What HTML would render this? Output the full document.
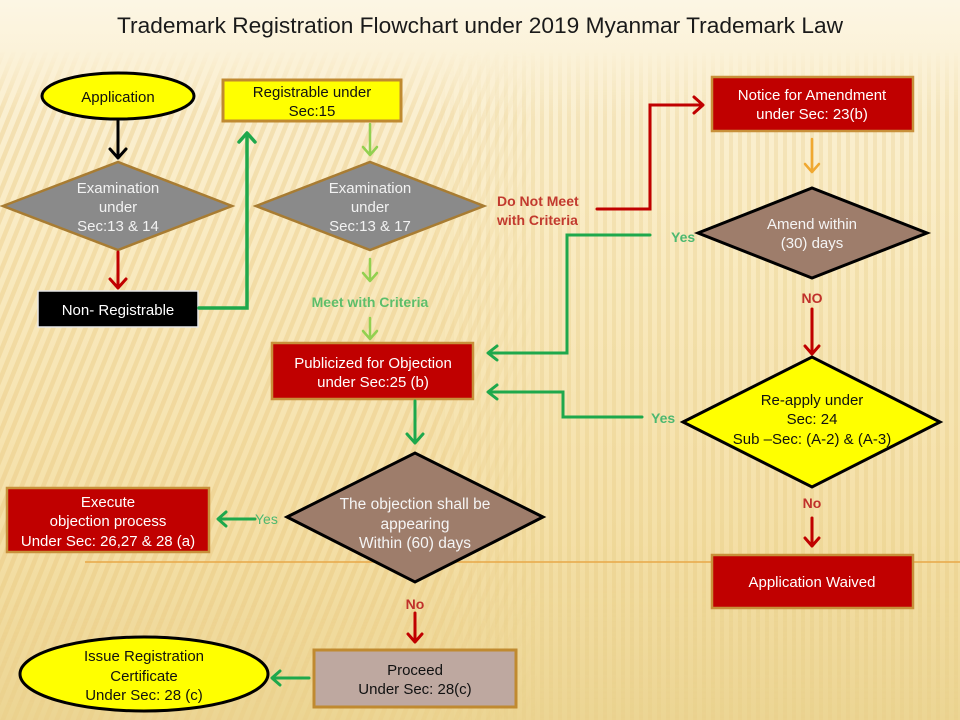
<!DOCTYPE html>
<html>
<head>
<meta charset="utf-8">
<style>
  html,body{margin:0;padding:0;background:#F8EBC4;}
  svg{display:block;}
  text{font-family:"Liberation Sans", Arial, sans-serif;}
</style>
</head>
<body>
<svg width="960" height="720" viewBox="0 0 960 720" xmlns="http://www.w3.org/2000/svg">
  <defs>
    <linearGradient id="bg" x1="0" y1="0" x2="0" y2="1">
      <stop offset="0" stop-color="#FCF6E4"/>
      <stop offset="0.09" stop-color="#FBF1D6"/>
      <stop offset="0.35" stop-color="#F9EAC0"/>
      <stop offset="0.75" stop-color="#F4DFA6"/>
      <stop offset="1" stop-color="#ECD593"/>
    </linearGradient>
    <pattern id="diag" width="10" height="10" patternUnits="userSpaceOnUse" patternTransform="rotate(22)">
      <rect width="4.5" height="10" fill="#E6C274" opacity="0.32"/>
    </pattern>
    <pattern id="vert" width="9" height="9" patternUnits="userSpaceOnUse">
      <rect width="4" height="9" fill="#E0BE6E" opacity="0.22"/>
    </pattern>
    <linearGradient id="fadeTop" x1="0" y1="0" x2="0" y2="1">
      <stop offset="0" stop-color="#fff" stop-opacity="0"/>
      <stop offset="0.1" stop-color="#fff" stop-opacity="1"/>
      <stop offset="0.8" stop-color="#fff" stop-opacity="1"/>
      <stop offset="1" stop-color="#fff" stop-opacity="0.5"/>
    </linearGradient>
    <linearGradient id="hL" x1="0" y1="0" x2="1" y2="0">
      <stop offset="0" stop-color="#fff" stop-opacity="1"/>
      <stop offset="0.8" stop-color="#fff" stop-opacity="1"/>
      <stop offset="1" stop-color="#fff" stop-opacity="0"/>
    </linearGradient>
    <linearGradient id="hR" x1="0" y1="0" x2="1" y2="0">
      <stop offset="0" stop-color="#fff" stop-opacity="0"/>
      <stop offset="0.2" stop-color="#fff" stop-opacity="1"/>
      <stop offset="1" stop-color="#fff" stop-opacity="1"/>
    </linearGradient>
    <mask id="m1"><rect x="0" y="50" width="960" height="670" fill="url(#fadeTop)"/></mask>
    <mask id="mL"><rect x="0" y="0" width="540" height="720" fill="url(#hL)"/></mask>
    <mask id="mR"><rect x="420" y="0" width="540" height="720" fill="url(#hR)"/></mask>
  </defs>

  <!-- background -->
  <rect x="0" y="0" width="960" height="720" fill="url(#bg)"/>
  <g mask="url(#m1)">
    <g mask="url(#mL)"><rect x="0" y="50" width="540" height="670" fill="url(#diag)"/></g>
    <g mask="url(#mR)"><rect x="420" y="50" width="540" height="670" fill="url(#vert)"/></g>
  </g>

  <!-- orange decorative line -->
  <line x1="85" y1="562" x2="960" y2="562" stroke="#E8A848" stroke-width="1.6"/>

  <!-- title -->
  <text x="480" y="33" font-size="22" text-anchor="middle" fill="#1A1A1A" textLength="726" lengthAdjust="spacingAndGlyphs">Trademark Registration Flowchart under 2019 Myanmar Trademark Law</text>

  <!-- ===== LEFT COLUMN ===== -->
  <ellipse cx="118" cy="96" rx="76" ry="23" fill="#FFFF00" stroke="#000" stroke-width="3"/>
  <text x="118" y="102" font-size="15" text-anchor="middle" fill="#111">Application</text>

  <g stroke="#000" stroke-width="3" fill="none" stroke-linecap="round" stroke-linejoin="round">
    <line x1="118" y1="121" x2="118" y2="157"/>
    <polyline points="110,149 118,158 126,149"/>
  </g>

  <polygon points="3,206 118,162 232,206 118,250" fill="#8A8A8A" stroke="#A87C32" stroke-width="2.5"/>
  <text x="118" y="193" font-size="15" text-anchor="middle" fill="#F2F2F2">Examination</text>
  <text x="118" y="212" font-size="15" text-anchor="middle" fill="#F2F2F2">under</text>
  <text x="118" y="231" font-size="15" text-anchor="middle" fill="#F2F2F2">Sec:13 &amp; 14</text>

  <g stroke="#C00000" stroke-width="3" fill="none" stroke-linecap="round" stroke-linejoin="round">
    <line x1="118" y1="252" x2="118" y2="287"/>
    <polyline points="110,279 118,288 126,279"/>
  </g>

  <rect x="38" y="291" width="160" height="36" fill="#000" stroke="#E8E8E8" stroke-width="1.5"/>
  <text x="118" y="315" font-size="15" text-anchor="middle" fill="#FFF">Non- Registrable</text>

  <g stroke="#1EA84C" stroke-width="3.5" fill="none" stroke-linecap="round" stroke-linejoin="miter">
    <polyline points="199,308 247,308 247,134"/>
    <polyline points="239,142 247,133 255,142" stroke-linejoin="round"/>
  </g>

  <rect x="223" y="80" width="178" height="41" fill="#FFFF00" stroke="#C08A30" stroke-width="3"/>
  <text x="312" y="97" font-size="15" text-anchor="middle" fill="#111">Registrable under</text>
  <text x="312" y="116" font-size="15" text-anchor="middle" fill="#111">Sec:15</text>

  <g stroke="#92D050" stroke-width="2.5" fill="none" stroke-linecap="round" stroke-linejoin="round">
    <line x1="370" y1="124" x2="370" y2="154"/>
    <polyline points="363,147 370,155 377,147"/>
    <line x1="370" y1="259" x2="370" y2="280"/>
    <polyline points="363,273 370,281 377,273"/>
    <line x1="370" y1="318" x2="370" y2="338"/>
    <polyline points="363,331 370,339 377,331"/>
  </g>

  <polygon points="256,206 370,162 484,206 370,250" fill="#8A8A8A" stroke="#A87C32" stroke-width="2.5"/>
  <text x="370" y="193" font-size="15" text-anchor="middle" fill="#F2F2F2">Examination</text>
  <text x="370" y="212" font-size="15" text-anchor="middle" fill="#F2F2F2">under</text>
  <text x="370" y="231" font-size="15" text-anchor="middle" fill="#F2F2F2">Sec:13 &amp; 17</text>

  <text x="370" y="307" font-size="14" font-weight="bold" text-anchor="middle" fill="#5DBE6A">Meet with Criteria</text>

  <text x="497" y="206" font-size="14" font-weight="bold" fill="#C23A2E">Do Not Meet</text>
  <text x="497" y="225" font-size="14" font-weight="bold" fill="#C23A2E">with Criteria</text>
  <g stroke="#C00000" stroke-width="3" fill="none" stroke-linecap="round">
    <polyline points="597,209 650,209 650,105 702,105" stroke-linejoin="miter"/>
    <polyline points="694,97 703,105 694,113" stroke-linejoin="round"/>
  </g>

  <rect x="272" y="343" width="201" height="56" fill="#C00000" stroke="#C8903A" stroke-width="2.5"/>
  <text x="373" y="368" font-size="15" text-anchor="middle" fill="#FFF">Publicized for Objection</text>
  <text x="373" y="387" font-size="15" text-anchor="middle" fill="#FFF">under Sec:25 (b)</text>

  <g stroke="#1EA84C" stroke-width="3" fill="none" stroke-linecap="round" stroke-linejoin="round">
    <line x1="415" y1="401" x2="415" y2="442"/>
    <polyline points="407,434 415,443 423,434"/>
  </g>

  <polygon points="287,517 415,453 543,517 415,582" fill="#9E7D6B" stroke="#000" stroke-width="3"/>
  <text x="415" y="509" font-size="15.5" text-anchor="middle" fill="#F5F5F5">The objection shall be</text>
  <text x="415" y="529" font-size="15.5" text-anchor="middle" fill="#F5F5F5">appearing</text>
  <text x="415" y="548" font-size="15.5" text-anchor="middle" fill="#F5F5F5">Within (60) days</text>

  <text x="255" y="524" font-size="14" fill="#4DB870">Yes</text>
  <g stroke="#1EA84C" stroke-width="3" fill="none" stroke-linecap="round" stroke-linejoin="round">
    <line x1="255" y1="519" x2="219" y2="519"/>
    <polyline points="226,512 218,519 226,526"/>
  </g>

  <rect x="7" y="488" width="202" height="64" fill="#C00000" stroke="#C8903A" stroke-width="2.5"/>
  <text x="108" y="507" font-size="15" text-anchor="middle" fill="#FFF">Execute</text>
  <text x="108" y="526" font-size="15" text-anchor="middle" fill="#FFF">objection process</text>
  <text x="108" y="546" font-size="15" text-anchor="middle" fill="#FFF">Under Sec: 26,27 &amp; 28 (a)</text>

  <text x="415" y="609" font-size="14" font-weight="bold" text-anchor="middle" fill="#C0302A">No</text>
  <g stroke="#C00000" stroke-width="3" fill="none" stroke-linecap="round" stroke-linejoin="round">
    <line x1="415" y1="613" x2="415" y2="641"/>
    <polyline points="408,634 415,642 422,634"/>
  </g>

  <rect x="314" y="650" width="202" height="57" fill="#BEA8A0" stroke="#C08A30" stroke-width="3"/>
  <text x="415" y="675" font-size="15" text-anchor="middle" fill="#111">Proceed</text>
  <text x="415" y="694" font-size="15" text-anchor="middle" fill="#111">Under Sec: 28(c)</text>

  <g stroke="#1EA84C" stroke-width="3" fill="none" stroke-linecap="round" stroke-linejoin="round">
    <line x1="309" y1="678" x2="273" y2="678"/>
    <polyline points="280,671 272,678 280,685"/>
  </g>

  <ellipse cx="144" cy="674" rx="124" ry="37" fill="#FFFF00" stroke="#000" stroke-width="3"/>
  <text x="144" y="661" font-size="15" text-anchor="middle" fill="#111">Issue Registration</text>
  <text x="144" y="681" font-size="15" text-anchor="middle" fill="#111">Certificate</text>
  <text x="144" y="700" font-size="15" text-anchor="middle" fill="#111">Under Sec: 28 (c)</text>

  <!-- ===== RIGHT COLUMN ===== -->
  <rect x="712" y="77" width="201" height="54" fill="#C00000" stroke="#C8903A" stroke-width="2.5"/>
  <text x="812" y="100" font-size="15" text-anchor="middle" fill="#FFF">Notice for Amendment</text>
  <text x="812" y="119" font-size="15" text-anchor="middle" fill="#FFF">under Sec: 23(b)</text>

  <g stroke="#F0A830" stroke-width="2.5" fill="none" stroke-linecap="round" stroke-linejoin="round">
    <line x1="812" y1="139" x2="812" y2="171"/>
    <polyline points="805,164 812,172 819,164"/>
  </g>

  <polygon points="698,233 812,188 927,233 812,278" fill="#9E7D6B" stroke="#000" stroke-width="3"/>
  <text x="812" y="229" font-size="15" text-anchor="middle" fill="#F5F5F5">Amend within</text>
  <text x="812" y="248" font-size="15" text-anchor="middle" fill="#F5F5F5">(30) days</text>

  <text x="671" y="242" font-size="14" font-weight="bold" fill="#4DB870">Yes</text>
  <g stroke="#1EA84C" stroke-width="3" fill="none" stroke-linecap="round">
    <polyline points="650,235 567,235 567,353 489,353" stroke-linejoin="miter"/>
    <polyline points="497,346 488,353 497,360" stroke-linejoin="round"/>
  </g>

  <text x="812" y="303" font-size="14" font-weight="bold" text-anchor="middle" fill="#C0302A">NO</text>
  <g stroke="#C00000" stroke-width="3" fill="none" stroke-linecap="round" stroke-linejoin="round">
    <line x1="812" y1="309" x2="812" y2="353"/>
    <polyline points="805,346 812,354 819,346"/>
  </g>

  <polygon points="683,422 812,357 940,422 812,487" fill="#FFFF00" stroke="#000" stroke-width="3"/>
  <text x="812" y="405" font-size="15" text-anchor="middle" fill="#111">Re-apply under</text>
  <text x="812" y="424" font-size="15" text-anchor="middle" fill="#111">Sec: 24</text>
  <text x="812" y="444" font-size="15" text-anchor="middle" fill="#111">Sub –Sec: (A-2) &amp; (A-3)</text>

  <text x="651" y="423" font-size="14" font-weight="bold" fill="#4DB870">Yes</text>
  <g stroke="#1EA84C" stroke-width="3" fill="none" stroke-linecap="round">
    <polyline points="642,417 563,417 563,392 489,392" stroke-linejoin="miter"/>
    <polyline points="497,385 488,392 497,399" stroke-linejoin="round"/>
  </g>

  <text x="812" y="508" font-size="14" font-weight="bold" text-anchor="middle" fill="#C0302A">No</text>
  <g stroke="#C00000" stroke-width="3" fill="none" stroke-linecap="round" stroke-linejoin="round">
    <line x1="812" y1="518" x2="812" y2="545"/>
    <polyline points="805,538 812,546 819,538"/>
  </g>

  <rect x="712" y="555" width="201" height="53" fill="#C00000" stroke="#C8903A" stroke-width="2.5"/>
  <text x="812" y="587" font-size="15" text-anchor="middle" fill="#FFF">Application Waived</text>
</svg>
</body>
</html>
